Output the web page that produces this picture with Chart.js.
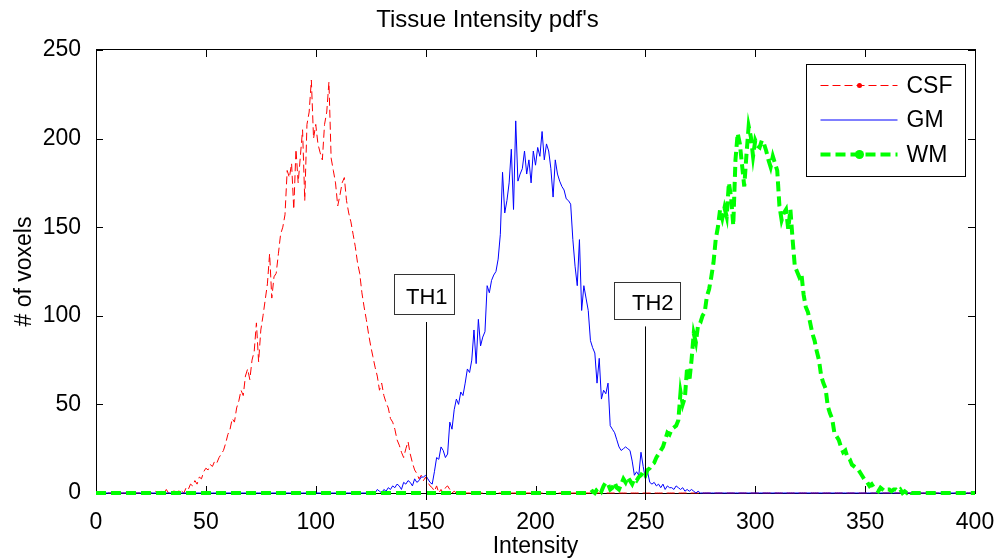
<!DOCTYPE html>
<html>
<head>
<meta charset="utf-8">
<title>Tissue Intensity pdf's</title>
<script src="https://cdn.jsdelivr.net/npm/chart.js@4.4.1/dist/chart.umd.min.js"></script>
<style>
  html, body { margin: 0; padding: 0; background: #fff; }
  canvas { display: block; }
</style>
</head>
<body>
<canvas id="chart-box" width="1003" height="560"></canvas>
<script>
// voxel counts per intensity (zero outside each range)
const csfStart = 25
const csfCounts = [
  0, 0, 1, 0, 0, 1, 0, 2, 0, 0, 1, 1, 0, 2, 1, 0,
  3, 2, 5, 4, 7, 5, 9, 8, 12, 14,
  13, 16, 15, 18, 17, 20, 22, 24, 28, 33,
  36, 42, 40, 48, 52, 58, 55, 66, 70, 64,
  75, 80, 96, 74, 92, 100, 109, 118, 135, 110,
  122, 124, 135, 146, 150, 157, 182, 178, 186, 160,
  194, 175, 190, 205, 165, 208, 215, 233, 200, 208,
  197, 192, 188, 208, 215, 232, 189, 182, 175, 162,
  168, 175, 178, 165, 158, 153, 146, 139, 130, 124,
  113, 105, 98, 90, 83, 77, 71, 66, 58, 62,
  55, 51, 48, 42, 40, 36, 30, 27, 23, 20,
  25, 29, 22, 17, 13, 11, 8, 10, 7, 9,
  6, 4, 3, 1, 4, 0, 2, 0, 3, 4, 2, 0, 1, 0, 0
]
const gmStart = 125
const gmCounts = [
  0, 1, 0, 2, 1, 0, 2, 1, 3, 2, 4,
  3, 5, 4, 2, 6, 5, 7, 6, 4, 8, 6, 7, 9, 9, 10,
  8, 6, 5, 12, 20, 19, 26, 24, 20, 22,
  40, 36, 47, 53, 50, 57, 55, 62, 70, 68,
  75, 92, 73, 98, 83, 88, 91, 117, 113, 120,
  123, 125, 132, 146, 181, 158, 165, 175, 194, 160,
  210, 176, 180, 183, 193, 180, 188, 175, 193, 185,
  195, 190, 204, 188, 197, 193, 183, 167, 188, 180,
  176, 173, 171, 166, 165, 163, 143, 128, 117, 143,
  103, 117, 110, 103, 86, 82, 79, 62, 76, 53,
  58, 56, 62, 38, 36, 34, 30, 26, 24, 25,
  26, 25, 24, 18, 10, 12, 10, 23, 15, 8,
  12, 6, 5, 6, 4, 5, 3, 5, 2, 4,
  3, 3, 2, 4, 3, 2, 3, 1, 2, 1, 2, 1, 0, 1, 0
]
const wmStart = 225
const wmCounts = [
  0, 1, 0, 2, 3, 1, 4, 6, 5, 2, 3, 6, 3, 2, 5, 8,
  6, 9, 7, 5, 8, 7, 9, 10, 12, 10,
  13, 14, 16, 17, 20, 22, 24, 26, 30, 34,
  33, 36, 37, 38, 41, 57, 50, 54, 71, 63,
  75, 90, 85, 95, 96, 100, 102, 111, 115, 122,
  130, 143, 150, 160, 155, 161, 156, 175, 167, 151,
  188, 203, 197, 185, 173, 191, 207, 201, 190, 199,
  196, 195, 199, 197, 193, 188, 184, 190, 186, 182,
  162, 154, 158, 160, 149, 160, 143, 128, 125, 122,
  124, 112, 105, 102, 96, 90, 86, 80, 75, 66,
  62, 59, 49, 45, 42, 34, 32, 30, 26, 23,
  24, 20, 19, 16, 15, 14, 13, 11, 9, 7,
  6, 4, 5, 3, 2, 1, 3, 2, 1, 2,
  2, 1, 2, 2, 1, 2, 0, 1, 0, 1, 0, 0
]
const xTicks = [0, 50, 100, 150, 200, 250, 300, 350, 400]
const yTicks = [0, 50, 100, 150, 200, 250]
const thresholds = [150, 250]
const thresholdLabels = ['TH1', 'TH2']

const fontFamily = '"Liberation Sans", Arial, Helvetica, sans-serif'

// full 0..400 curve, counts are zero where nothing was plotted
const toPoints = (start, counts) => {
    const pts = []
    for (let i = 0; i <= 400; i++) {
        const k = i - start
        pts.push({ x: i, y: (k >= 0 && k < counts.length) ? counts[k] : 0 })
    }
    return pts
}

// axes box with inward ticks, drawn under the curves like matlab
const framePlugin = {
    id: 'frame',
    beforeDatasetsDraw(chart) {
        const { ctx, chartArea: a, scales: { x, y } } = chart
        const len = 7
        ctx.save()
        ctx.strokeStyle = '#000'
        ctx.lineWidth = 1
        ctx.beginPath()
        x.ticks.forEach(t => {
            const px = Math.round(x.getPixelForValue(t.value)) + 0.5
            ctx.moveTo(px, a.bottom); ctx.lineTo(px, a.bottom - len)
            ctx.moveTo(px, a.top); ctx.lineTo(px, a.top + len)
        })
        y.ticks.forEach(t => {
            const py = Math.round(y.getPixelForValue(t.value)) + 0.5
            ctx.moveTo(a.left, py); ctx.lineTo(a.left + len, py)
            ctx.moveTo(a.right, py); ctx.lineTo(a.right - len, py)
        })
        ctx.stroke()
        ctx.strokeRect(a.left + 0.5, a.top - 0.5, a.right - a.left, a.bottom - a.top + 1)
        ctx.restore()
    }
}

// TH1 / TH2 text boxes with their vertical markers
const thresholdPlugin = {
    id: 'thresholds',
    afterDatasetsDraw(chart) {
        const { ctx, chartArea: a, scales: { x, y } } = chart
        const boxTop = [123.5, 119]
        const boxBottom = [101, 98]
        const lineTop = [96.5, 94]
        const boxLeft = [-32, -31]
        const boxRight = [28, 35]
        ctx.save()
        ctx.font = '22px ' + fontFamily
        ctx.textBaseline = 'middle'
        ctx.textAlign = 'right'
        thresholds.forEach((t, i) => {
            const px = Math.round(x.getPixelForValue(t)) + 0.5
            ctx.strokeStyle = '#000'
            ctx.lineWidth = 1
            ctx.beginPath()
            ctx.moveTo(px, y.getPixelForValue(lineTop[i]))
            ctx.lineTo(px, a.bottom + 7)
            ctx.stroke()
            const top = Math.round(y.getPixelForValue(boxTop[i])) + 0.5
            const bottom = Math.round(y.getPixelForValue(boxBottom[i])) + 0.5
            const left = px + boxLeft[i]
            const right = px + boxRight[i]
            ctx.fillStyle = '#fff'
            ctx.fillRect(left, top, right - left, bottom - top)
            ctx.strokeStyle = '#333'
            ctx.strokeRect(left, top, right - left, bottom - top)
            ctx.fillStyle = '#000'
            ctx.fillText(thresholdLabels[i], right - 7, (top + bottom) / 2 + 3)
        })
        ctx.restore()
    }
}

// matlab style legend box in the upper right corner
const legendPlugin = {
    id: 'boxLegend',
    afterDraw(chart) {
        const { ctx, chartArea: a } = chart
        const w = 159, h = 112
        const left = Math.round(a.right - 10 - w) + 0.5
        const top = Math.round(a.top + 15) - 0.5
        ctx.save()
        ctx.fillStyle = '#fff'
        ctx.fillRect(left, top, w, h)
        ctx.strokeStyle = '#000'
        ctx.lineWidth = 1
        ctx.strokeRect(left, top, w, h)
        ctx.font = '23px ' + fontFamily
        ctx.textBaseline = 'middle'
        ctx.textAlign = 'left'
        chart.data.datasets.forEach((ds, i) => {
            const rowY = top + 21 + i * 34.5
            ctx.strokeStyle = ds.borderColor
            ctx.lineWidth = ds.borderWidth
            ctx.setLineDash(ds.borderDash || [])
            ctx.beginPath()
            ctx.moveTo(left + 14, rowY)
            ctx.lineTo(left + 91, rowY)
            ctx.stroke()
            ctx.setLineDash([])
            if (ds.legendDot) {
                ctx.fillStyle = ds.borderColor
                ctx.beginPath()
                ctx.arc(left + 53, rowY, ds.legendDot, 0, Math.PI * 2)
                ctx.fill()
            }
            ctx.fillStyle = '#000'
            ctx.fillText(ds.label, left + 100, rowY + 1)
        })
        ctx.restore()
    }
}

Chart.defaults.font.family = fontFamily
Chart.defaults.font.size = 23
Chart.defaults.color = '#000'

const ctx = document.getElementById('chart-box')

new Chart(ctx, {
    type: 'line',
    data: {
        datasets: [
            {
                label: 'CSF',
                data: toPoints(csfStart, csfCounts),
                borderColor: '#ff0000',
                borderWidth: 1,
                borderDash: [8, 4],
                legendDot: 2.5,
                order: 3,
            },
            {
                label: 'GM',
                data: toPoints(gmStart, gmCounts),
                borderColor: '#0000ff',
                borderWidth: 1,
                order: 2,
            },
            {
                label: 'WM',
                data: toPoints(wmStart, wmCounts),
                borderColor: '#00ff00',
                borderWidth: 4,
                borderDash: [10, 5],
                legendDot: 4.5,
                order: 1,
            },
        ]
    },
    options: {
        responsive: false,
        animation: false,
        clip: false,
        elements: {
            point: { radius: 0 },
            line: { tension: 0 },
        },
        layout: {
            padding: { left: 0, right: 28, top: 0, bottom: 0 }
        },
        scales: {
            x: {
                type: 'linear',
                min: 0,
                max: 400,
                afterBuildTicks: (scale) => { scale.ticks = xTicks.map(v => ({ value: v })) },
                afterFit: (scale) => { scale.height = 67 },
                grid: { display: false },
                border: { display: false },
                ticks: { padding: 8, maxRotation: 0 },
                title: { display: true, text: 'Intensity', padding: { top: 0, bottom: 0 } },
            },
            y: {
                min: 0,
                max: 250,
                afterBuildTicks: (scale) => { scale.ticks = yTicks.map(v => ({ value: v })) },
                afterFit: (scale) => { scale.width = 96 },
                grid: { display: false },
                border: { display: false },
                ticks: { padding: 7 },
                title: { display: true, text: '# of voxels', padding: { top: 11, bottom: 0 } },
            },
        },
        plugins: {
            legend: { display: false },
            tooltip: { enabled: false },
            title: {
                display: true,
                text: "Tissue Intensity pdf's",
                font: { size: 24, weight: 'normal' },
                padding: { top: 6, bottom: 15.2 },
            },
        },
    },
    plugins: [framePlugin, thresholdPlugin, legendPlugin],
})
</script>
</body>
</html>
